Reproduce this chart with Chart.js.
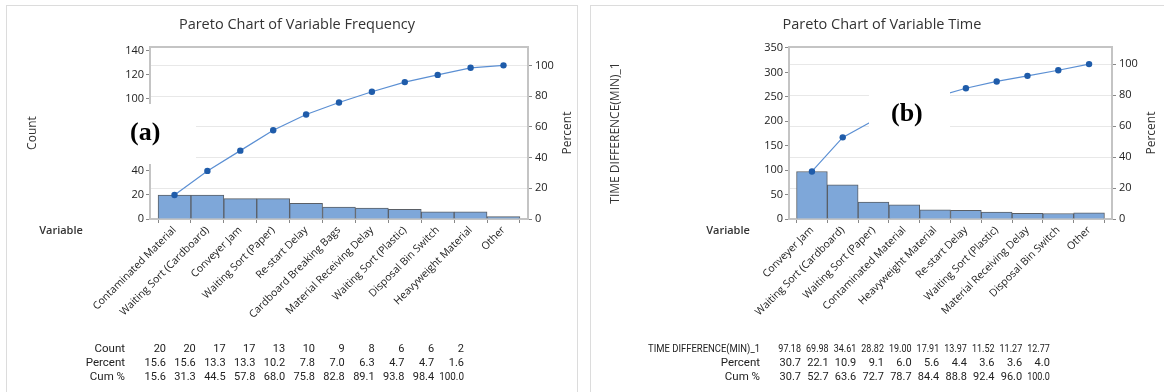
<!DOCTYPE html>
<html>
<head>
<meta charset="utf-8">
<script src="https://cdn.jsdelivr.net/npm/chart.js@4.4.1/dist/chart.umd.min.js"></script>
<style>
    body { margin: 0; background: #fff; width: 1164px; height: 392px; overflow: hidden; position: relative; }
    .panel { position: absolute; top: 5px; height: 400px; border: 1px solid #dcdcdc; box-sizing: border-box; }
    canvas { position: absolute; top: 0; }
</style>
</head>
<body>
<div class="panel" style="left:6px; width:572px;"></div>
<div class="panel" style="left:590px; width:590px;"></div>
<canvas id="chart-a" width="582" height="392" style="left:0"></canvas>
<canvas id="chart-b" width="580" height="392" style="left:584px"></canvas>
<script>
// (a) frequency
const catsA = ['Contaminated Material', 'Waiting Sort (Cardboard)', 'Conveyer Jam', 'Waiting Sort (Paper)', 'Re-start Delay',
    'Cardboard Breaking Bags', 'Material Receiving Delay', 'Waiting Sort (Plastic)', 'Disposal Bin Switch', 'Heavyweight Material', 'Other'];
const countA = [20, 20, 17, 17, 13, 10, 9, 8, 6, 6, 2];
const pctA = [15.6, 15.6, 13.3, 13.3, 10.2, 7.8, 7.0, 6.3, 4.7, 4.7, 1.6];
const cumA = [15.6, 31.3, 44.5, 57.8, 68.0, 75.8, 82.8, 89.1, 93.8, 98.4, 100.0];
const countTicksA = [0, 20, 40, 60, 80, 100, 120, 140];

// (b) time
const catsB = ['Conveyer Jam', 'Waiting Sort (Cardboard)', 'Waiting Sort (Paper)', 'Contaminated Material', 'Heavyweight Material',
    'Re-start Delay', 'Waiting Sort (Plastic)', 'Material Receiving Delay', 'Disposal Bin Switch', 'Other'];
const timeB = [97.18, 69.98, 34.61, 28.82, 19.00, 17.91, 13.97, 11.52, 11.27, 12.77];
const pctB = [30.7, 22.1, 10.9, 9.1, 6.0, 5.6, 4.4, 3.6, 3.6, 4.0];
const cumB = [30.7, 52.7, 63.6, 72.7, 78.7, 84.4, 88.8, 92.4, 96.0, 100.0];
const timeTicksB = [0, 50, 100, 150, 200, 250, 300, 350];

const percentTicks = [0, 20, 40, 60, 80, 100];

Chart.defaults.font.family = "'Open Sans', 'Noto Sans', sans-serif";
Chart.defaults.color = '#222';

const AXIS = '#c4c4c4';
const TXT = '#333';

// top edge of the plot frame
const framePlugin = {
    id: 'frame',
    beforeDatasetsDraw(chart) {
        const a = chart.chartArea, ctx = chart.ctx;
        ctx.save();
        ctx.strokeStyle = AXIS;
        ctx.lineWidth = 2;
        ctx.beginPath();
        ctx.moveTo(a.left - 1, a.top);
        ctx.lineTo(a.right + 1, a.top);
        ctx.stroke();
        ctx.restore();
    }
};

// titles, table under the chart and the pasted (a)/(b) label
const extrasPlugin = {
    id: 'extras',
    afterDraw(chart, args, o) {
        const ctx = chart.ctx;
        ctx.save();
        ctx.fillStyle = TXT;
        ctx.textBaseline = 'middle';

        ctx.font = "14.5px 'Open Sans'";
        ctx.textAlign = 'center';
        ctx.fillText(o.title, o.titleX, 25);

        ctx.font = "12px 'Open Sans'";
        ctx.save();
        ctx.translate(o.yTitleX, 133);
        ctx.rotate(-Math.PI / 2);
        ctx.fillText(o.yTitle, 0, 0);
        ctx.restore();
        ctx.save();
        ctx.translate(568, 133);
        ctx.rotate(-Math.PI / 2);
        ctx.fillText('Percent', 0, 0);
        ctx.restore();

        ctx.font = "600 11px 'Open Sans'";
        ctx.fillText('Variable', o.varX, 231);

        ctx.fillStyle = '#222';
        ctx.textAlign = 'right';
        o.rows.forEach((row, r) => {
            const y = 349 + r * 14;
            ctx.font = "11.5px Roboto";
            ctx.fillText(row.label, o.labelRight, y, o.labelMax);
            ctx.font = "11px Roboto";
            row.values.forEach((v, i) => {
                ctx.fillText(v.toFixed(row.dec), o.firstX + i * o.step, y, o.step - 5);
            });
        });

        const b = o.box;
        ctx.fillStyle = '#fff';
        ctx.fillRect(b.x, b.y, b.w, b.h);
        ctx.fillStyle = '#000';
        ctx.textAlign = 'left';
        ctx.textBaseline = 'alphabetic';
        ctx.font = "bold 26px 'Liberation Serif'";
        ctx.fillText(b.text, b.tx, b.ty);
        ctx.restore();
    }
};

function paretoChart(canvasId, cats, values, cum, valueTicks, valueMax, total, leftWidth, rightWidth, extras) {
    const n = cats.length;
    const pad = 0.245;
    return new Chart(document.getElementById(canvasId), {
        data: {
            datasets: [
                {
                    type: 'line',
                    data: cum.map((v, i) => ({ x: i, y: v })),
                    yAxisID: 'p',
                    borderColor: '#5b8fd3',
                    borderWidth: 1.2,
                    pointRadius: 3.2,
                    pointBackgroundColor: '#1f5caa',
                    pointBorderWidth: 0,
                    tension: 0
                },
                {
                    type: 'bar',
                    data: values.map((v, i) => ({ x: i, y: v })),
                    yAxisID: 'y',
                    backgroundColor: '#7ea7d9',
                    borderColor: '#5a5f66',
                    borderWidth: 1,
                    barPercentage: 1,
                    categoryPercentage: 1
                }
            ]
        },
        options: {
            responsive: false,
            animation: false,
            devicePixelRatio: 1,
            layout: { padding: { top: 47, left: 0, right: 0, bottom: 0 } },
            plugins: {
                legend: { display: false },
                tooltip: { enabled: false },
                extras: extras
            },
            scales: {
                x: {
                    type: 'linear',
                    offset: false,
                    min: -0.5 - pad,
                    max: n - 0.5 + pad,
                    afterFit: s => { s.height = 173; },
                    afterBuildTicks: s => { s.ticks = cats.map((c, i) => ({ value: i })); },
                    ticks: {
                        autoSkip: false,
                        minRotation: 45,
                        maxRotation: 45,
                        padding: 1,
                        font: { size: 10.5 },
                        color: '#222',
                        callback: v => cats[v]
                    },
                    grid: { drawOnChartArea: false, tickLength: 4, color: '#888' },
                    border: { color: AXIS, width: 2 }
                },
                y: {
                    position: 'left',
                    min: 0,
                    max: valueMax,
                    afterFit: s => { s.width = leftWidth; },
                    afterBuildTicks: s => { s.ticks = valueTicks.map(v => ({ value: v })); },
                    ticks: { font: { size: 11 }, color: '#222', padding: 2 },
                    grid: { drawOnChartArea: false, tickLength: 4, color: '#888' },
                    border: { color: AXIS, width: 2 }
                },
                p: {
                    position: 'right',
                    min: 0,
                    max: valueMax / total * 100,
                    afterFit: s => { s.width = rightWidth; },
                    afterBuildTicks: s => { s.ticks = percentTicks.map(v => ({ value: v })); },
                    ticks: { font: { size: 11 }, color: '#222', padding: 3 },
                    grid: { drawOnChartArea: true, color: '#e8e8e8', tickColor: '#888', tickLength: 4, lineWidth: 1 },
                    border: { color: AXIS, width: 2 }
                }
            }
        },
        plugins: [framePlugin, extrasPlugin]
    });
}

const totalA = countA.reduce((s, v) => s + v, 0);
const totalB = timeB.reduce((s, v) => s + v, 0);

paretoChart('chart-a', catsA, countA, cumA, countTicksA, 143.3, totalA, 150, 54, {
    title: 'Pareto Chart of Variable Frequency',
    titleX: 297,
    yTitle: 'Count',
    yTitleX: 33,
    varX: 61,
    labelRight: 125,
    labelMax: 100,
    firstX: 166,
    step: 29.8,
    rows: [
        { label: 'Count', values: countA, dec: 0 },
        { label: 'Percent', values: pctA, dec: 1 },
        { label: 'Cum %', values: cumA, dec: 1 }
    ],
    box: { x: 108, y: 104, w: 88, h: 60, text: '(a)', tx: 130, ty: 140 }
});

paretoChart('chart-b', catsB, timeB, cumB, timeTicksB, 352, totalB, 205, 52, {
    title: 'Pareto Chart of Variable Time',
    titleX: 298,
    yTitle: 'TIME DIFFERENCE(MIN)_1',
    yTitleX: 32,
    varX: 144,
    labelRight: 176,
    labelMax: 112,
    firstX: 217,
    step: 27.65,
    rows: [
        { label: 'TIME DIFFERENCE(MIN)_1', values: timeB, dec: 2 },
        { label: 'Percent', values: pctB, dec: 1 },
        { label: 'Cum %', values: cumB, dec: 1 }
    ],
    box: { x: 285, y: 82, w: 81, h: 58, text: '(b)', tx: 307, ty: 121 }
});
</script>
</body>
</html>
